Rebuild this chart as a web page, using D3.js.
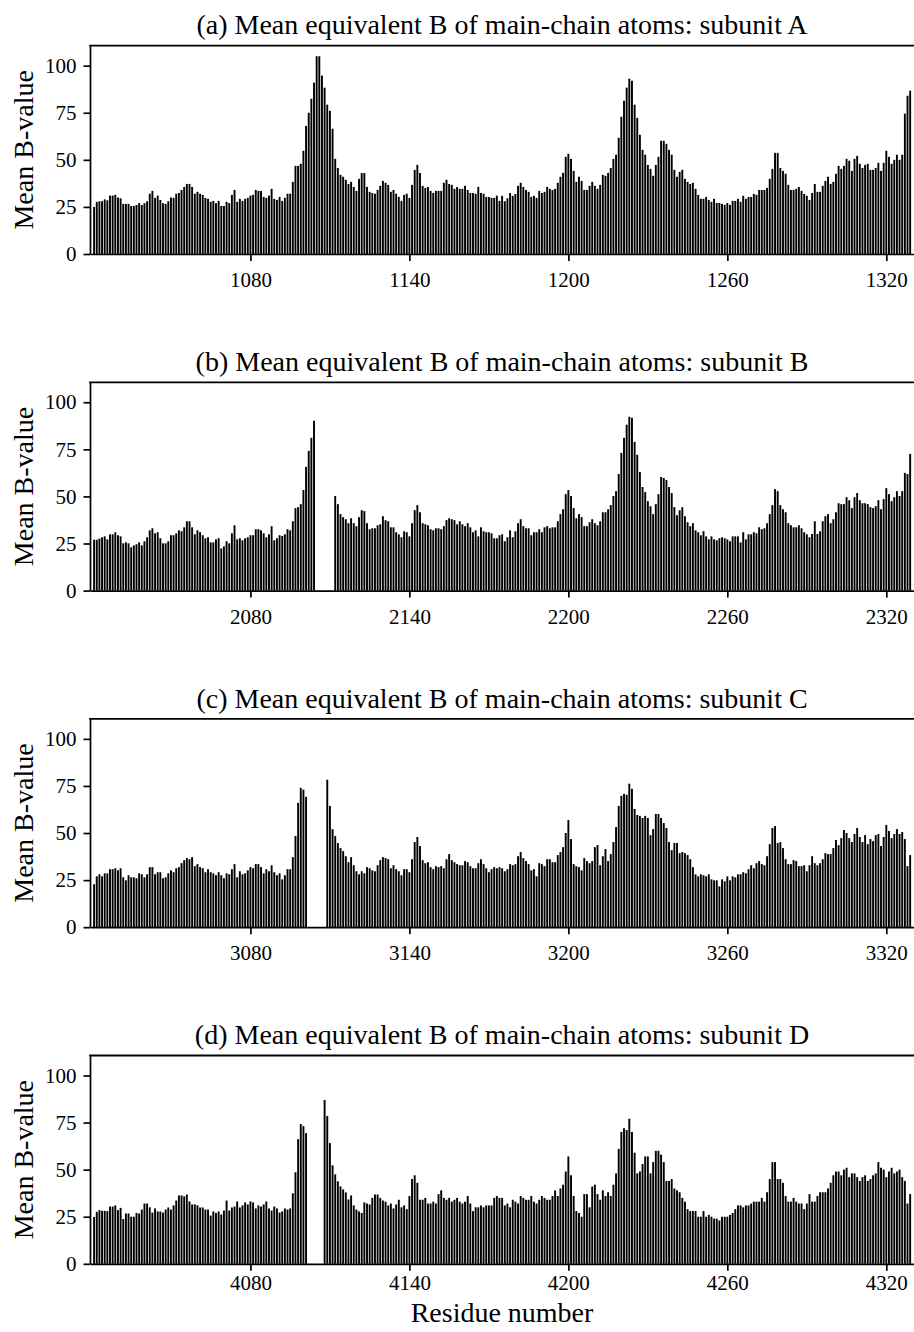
<!DOCTYPE html>
<html><head><meta charset="utf-8">
<script src="https://cdn.jsdelivr.net/npm/d3@7"></script>
<style>
body{margin:0;background:#fff}
text{font-family:"Liberation Serif","Times New Roman",serif;fill:#000}
</style>
</head><body>
<svg id="chart" width="914" height="1332"></svg>
<script>
const panelTitles = [
  "(a) Mean equivalent B of main-chain atoms: subunit A",
  "(b) Mean equivalent B of main-chain atoms: subunit B",
  "(c) Mean equivalent B of main-chain atoms: subunit C",
  "(d) Mean equivalent B of main-chain atoms: subunit D"
];
const firstResidue = [1021, 2021, 3021, 4021];
const xTickLabels = [
  [1080, 1140, 1200, 1260, 1320],
  [2080, 2140, 2200, 2260, 2320],
  [3080, 3140, 3200, 3260, 3320],
  [4080, 4140, 4200, 4260, 4320]
];
const yTickValues = [0, 25, 50, 75, 100];
const yLabel = "Mean B-value";
const xLabel = "Residue number";

const subunitA = [
25,27.7,28,28,29,28.5,31,31,31.4,30,
29.6,26.6,26.6,26.6,25.5,25.5,26,27,26,27,
28,32,33.5,29.8,31,28.7,27,26.6,28,30,
29.8,32,32.4,34,35.6,37.2,37.2,35.6,32,33,
32,31.4,29.8,29.3,27.7,28.2,27,28.2,25.5,25.5,
27.7,27,31.4,34,27.7,29.3,28.2,29.3,29.8,31,
31.4,34,33.5,33.5,30.3,29.8,31,34.6,29.3,28.7,
30.3,28.2,29.8,32,32,38.3,46.8,46.8,47.9,54.8,
68,75,82.4,91,105,105,94.7,88.3,79.3,76,
66.5,50.5,45.7,42,41,39.4,37.2,38.3,35.6,33.5,
39.9,43,43,35.6,33,32.4,32,34,36.2,38.8,
37.8,36.7,33,34,32,30.3,28.2,31.4,32,29.8,
36.7,44.7,47.3,43,36.2,35.1,35.6,33.5,32.4,33.5,
33.5,33.5,37.8,39.4,37.2,36.7,34.6,35.6,34.6,34.6,
36.2,34,32.4,32.4,32,35.6,32.4,32,30.3,30.3,
29.8,29.8,31,28.2,
30.9,28,29.6,32.4,30.9,31.9,36.2,37.8,35.6,34,
33,30.3,30.9,29.8,33.5,32.4,33,35.6,34.6,34,
34.6,37.8,41,43.1,51.6,53.2,50.5,44.1,38.3,41,
38.8,34,34,36.2,38.3,36.2,34.6,36.7,42,41.5,
43.1,45.7,50.5,52.7,61.7,72.9,81.4,88.3,93.1,92,
79.3,72.3,63.3,55.3,52.7,47.3,45.2,41.5,47.3,51.6,
60.1,60.1,58.5,55.3,52.7,44.7,41,43.6,44.7,39.9,
38.3,37.2,37.8,34.6,31.4,29.3,29.3,30.3,28.7,27.7,
29.3,27.1,27.1,26.6,26.1,27.1,26.1,28.2,28.2,29.3,
27.7,30.9,29.3,30.3,30.3,31.9,31.4,34,34,34,
35.1,39.9,45.2,53.7,53.7,45.7,44.1,42.6,36.7,34,
34,34.6,35.6,33.5,31.9,30.9,28.7,32.4,37.2,33,
33,36.2,38.8,41,37.2,38.3,42.6,46.8,45.2,46.8,
50.5,49.5,44.1,50.5,52.1,47.9,45.7,47.3,47.9,44.7,
44.7,45.7,48.4,44.1,48.4,54.8,51.6,47.9,50,52.7,
50,52.7,74.5,84,86.7
];

const subunitB = [
27,27,27.6,28.3,28.8,27.2,29.9,29.9,31,29.4,
28.8,25.1,25.6,25.1,23,24,24.6,25.6,24,26.2,
28.3,32,33.1,30.4,31,27.8,25.1,25.1,26.2,29.4,
29.4,30.4,32,31.5,33.6,36.8,36.8,33.6,29.9,32,
31,29.4,27.8,28.3,25.6,25.6,27.2,27.8,22.4,23.5,
26.2,25.1,30.4,34.7,27.2,27.8,26.7,27.8,28.3,29.4,
29.4,32.6,32.6,32,30.4,28.3,29.9,34.2,26.7,27.8,
29.4,29,29.9,32.6,32,36.8,43.8,44.3,45.9,53.4,
65.7,74.2,81.1,90.2,
null,null,null,null,null,null,null,
50.2,45.9,40.6,39,37.9,35.8,38.4,35.8,34.2,39,
42.7,42.2,35.8,32.6,33.1,33.1,34.7,35.2,39.5,37.4,
36.8,33.6,33.6,31,29.9,28.3,31.5,31,28.8,35.8,
42.7,45.4,41.6,35.8,35.2,34.7,32.6,32,33.1,33.1,
32.6,34.2,37.4,38.4,37.9,37.4,35.2,36.8,35.2,34.2,
35.8,33.6,31,32,28.8,33.6,31.5,31,31,30.4,
27.8,27.8,29.4,
29.9,26.2,28.3,32,28.3,31.5,35.8,37.9,34.2,33.1,
33.1,29.4,31,31,32.6,31,33.6,34.2,33.1,33.6,
33.6,36.8,40.6,43.2,51.2,53.4,50.2,43.8,38.4,40.6,
39,34.2,34.2,36.3,37.9,35.8,34.7,36.8,41.6,41.6,
43.2,45.4,50.2,52.8,61.9,73.1,81.1,88.1,92.3,91.8,
79,72.1,63,55,52.3,47.5,44.8,40.6,45.9,51.2,
60.3,59.8,58.7,55,51.8,44.3,40,42.7,44.3,39.5,
36.3,34.2,35.8,32,31,29.4,31.5,28.8,27.2,28.8,
27.2,26.7,27.8,28.3,27.8,27.2,26.2,28.8,28.8,28.8,
25.6,31,27.2,29.9,29.9,31,30.4,33.6,32.6,33.1,
35.8,40.6,45.4,53.9,52.8,45.4,43.2,41.6,35.8,34.7,
33.6,33.6,34.7,33.1,31,29.9,28.3,30.1,36.8,30.1,
31.5,36.8,39.5,40.6,35.8,37.9,41.6,46.4,45.9,45.9,
49.6,48,43.8,49.6,51.8,48,46.4,46.4,45.9,44.3,
43.8,44.8,48,43.2,48.6,54.4,51.2,47.5,49.6,52.8,
50.2,52.8,62.5,61.9,72.6
];

const subunitC = [
22.8,27,28.1,27,28.6,28.6,30.8,30.8,31.3,30.2,
31.3,26.5,24.9,27.6,26.5,26.5,26,28.6,28.1,26.5,
28.1,31.9,31.9,28.1,29.2,29.2,26,26.5,28.6,30.2,
29.2,31.3,31.9,34,35.6,36.7,36.1,37.2,32.4,33.5,
31.9,31.3,29.2,30.8,29.2,28.6,27.6,29.2,27.6,26,
28.6,28.1,30.8,33.5,26.5,29.7,28.1,28.6,30.2,31.9,
31.3,33.5,33.5,31.9,28.6,30.8,29.7,32.9,29.2,27.6,
28.6,25.4,27.6,30.8,30.8,37.2,48.4,66,74,73,
69.2,
null,null,null,null,null,null,null,
78.3,64.4,52.1,48.4,44.7,42,40.4,37.7,34.5,37.2,
32.9,29.7,28.1,29.7,28.6,31.9,31.3,30.2,29.7,32.9,
35.6,37.2,36.7,36.1,31.3,32.9,30.8,29.7,27.6,30.8,
30.8,29.2,36.1,45.2,47.9,43.1,35.6,34,34.5,31.9,
30.8,32.4,31.9,32.4,31.3,36.1,38.8,35.6,34.5,33.5,
32.9,32.9,35.1,34.5,32.4,31.3,31.3,34,36.1,33.5,
31.3,29.2,30.8,31.9,31.3,31.9,
31.3,29.7,30.8,33.5,32.9,33.5,37.7,39.9,36.7,35.1,
33.5,30.2,30.8,27,34,33.5,32.4,36.1,36.1,34.5,
34.5,38.3,39.9,42.5,50,56.9,46.8,33.5,32.4,31.9,
30.2,36.7,35.1,34,35.1,42.5,43.6,32.9,37.7,41.5,
35.1,38.8,45.2,53.2,64.4,69.8,70.8,70.3,76.2,73.5,
62.8,59.6,59.1,58,59.1,58,48.9,52.1,60.1,60.1,
58,55.3,52.7,45.2,40.9,44.7,44.7,39.3,39.9,39.3,
38.3,36.1,31.9,28.1,27,28.1,27.6,27,28.1,25.4,
24.9,24.9,21.7,25.4,24.4,27,24.9,27,26.5,28.1,
28.1,29.2,28.6,30.8,32.9,31.3,34,35.1,33.5,32.9,
37.7,44.1,52.7,53.7,44.7,45.2,42,36.1,33.5,33.5,
35.6,35.1,32.4,32.4,32.9,29.7,32.9,37.7,34,32.9,
34,36.1,39.3,38.8,38.8,42,46.3,43.6,47.3,51.6,
50,47.3,45.2,49.5,52.7,47.9,45.2,48.9,44.1,46.8,
45.7,48.9,49.5,43.1,47.9,54.3,51.1,47.3,49.5,52.1,
49.5,50.5,46.8,32.4,38.3
];

const subunitD = [
24.9,27.6,28.5,28.1,28.1,28,30.4,30.4,31,28.5,
29.7,23.8,26.7,26.7,25,25,27,26.7,28.8,32,
32,30,27.2,29.4,27.8,27.8,27.2,28.8,29.9,28.8,
31,33.6,36.3,36.3,35.8,36.8,33.1,31.5,31.5,31,
29.9,29.9,28.8,28.8,25.6,27.8,27,27.8,26.2,28.3,
33.6,28.3,29.9,30.4,33.1,29.9,31,32.6,31.5,33.1,
32.6,29.4,31,30.4,31.5,33.1,29.4,28.3,30.4,29.4,
27.2,27.8,29.4,28.8,29.4,37.4,48.6,66.2,74.2,73.1,
69.4,
null,null,null,null,null,null,
87,78.5,64.1,52.3,47.5,43.8,41.1,39.5,37.9,34.2,36.3,31,28.8,27.8,
27,32.6,32,31.5,35,36.8,36.8,35,33.6,33,31,32,29.4,31.5,34,30,31,29,36,
45,47,43,
34,34,35,32,32,33,32,37,39,35,34,35,33,34,35,33,32,33,36,32,
28,30,30,31,30,31,31,31,35,36,35,35,31,32,30,34,33,32,36,35,34,34,36,
33,32,34,36,35,34,34,36,39,36,40,42,49,
57,47,36,28,27,25,37,37,30,41,42,37,34,39,36,38,36,42,48,
61,70,72,71,77,70,59,48,49,53,57,57,48,54,60,60,58,54,44,44,45,40,39,38,
35,33,29,28,28,28,25,25,28,25,26,25,24,24,23,25,
25,25,26,27,29,31,31,30,31,31,
32,33,33,33,35,33,38,45,54,
54,45,45,43,36,33,33,35,33,32,32,29,32,37,33,33,36,38,38,38,
40,43,47,49,49,47,50,51,46,48,48,46,44,46,47,44,45,47,48,54,
51,50,46,49,51,48,49,50,46,44,32,37
];

const series = [subunitA, subunitB, subunitC, subunitD];

const left = 90, right = 914, plotH = 208.3, firstTop = 45.7, step = 336.6;
const svg = d3.select("#chart");
const serif = '"Liberation Serif","Times New Roman",serif';

series.forEach((vals, i) => {
  const top = firstTop + i * step, base = top + plotH;
  const r0 = firstResidue[i];
  const last = i === series.length - 1;
  const x = d3.scaleLinear().domain([r0 - 1.55, r0 + 309.45]).range([left, right]);
  const y = d3.scaleLinear().domain([0, 110.6]).range([base, top]);
  const g = svg.append("g");
  const data = vals.map((v, k) => ({r: r0 + k, v: v})).filter(d => d.v !== null);
  const pitch = x(r0 + 1) - x(r0);
  const bw = pitch * 0.72;

  g.append("g").selectAll("rect").data(data).join("rect")
    .attr("x", d => x(d.r) - bw / 2)
    .attr("width", bw)
    .attr("y", d => y(d.v))
    .attr("height", d => base - y(d.v))
    .attr("fill", "#000");

  const yAxis = g.append("g").attr("transform", `translate(${left},0)`)
    .call(d3.axisLeft(y).tickValues(yTickValues).tickSize(6.5).tickPadding(7).tickSizeOuter(0));
  const xAxis = g.append("g").attr("transform", `translate(0,${base})`)
    .call(d3.axisBottom(x).tickValues(xTickLabels[i]).tickSize(7).tickPadding(last ? 4 : 11)
      .tickSizeOuter(0).tickFormat(d3.format("d")));
  [yAxis, xAxis].forEach(a => {
    a.selectAll("path,line").attr("stroke", "#000").attr("stroke-width", 1.7);
    a.selectAll("text").style("font-family", serif).style("font-size", "21px").attr("fill", "#000");
  });

  g.append("line").attr("x1", left - 0.85).attr("x2", right).attr("y1", top).attr("y2", top)
    .attr("stroke", "#000").attr("stroke-width", 1.8);

  g.append("text").attr("x", (left + right) / 2).attr("y", top - 11.4)
    .attr("text-anchor", "middle").style("font-family", serif).style("font-size", "28px").text(panelTitles[i]);

  g.append("text").attr("transform", `translate(33,${(top + base) / 2}) rotate(-90)`)
    .attr("text-anchor", "middle").style("font-family", serif).style("font-size", "28px").text(yLabel);

  if (last) {
    g.append("text").attr("x", (left + right) / 2).attr("y", 1322)
      .attr("text-anchor", "middle").style("font-family", serif).style("font-size", "28px").text(xLabel);
  }
});
</script>
</body></html>
